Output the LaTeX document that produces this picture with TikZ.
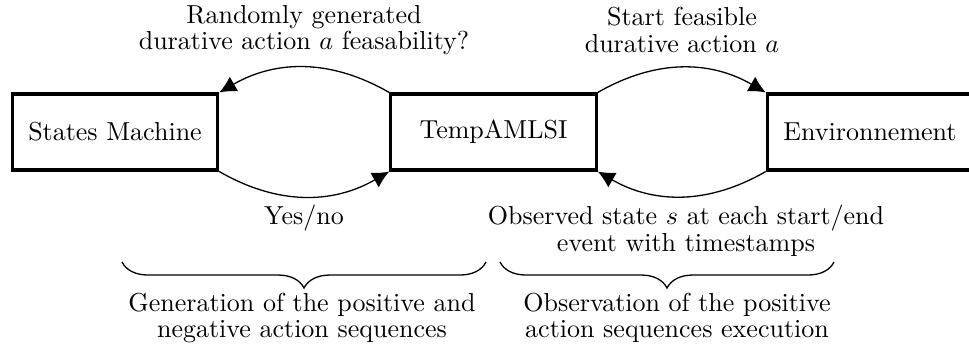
\documentclass[tikz,border=0pt]{standalone}
\usetikzlibrary{decorations.pathreplacing,arrows.meta}
\begin{document}
\begin{tikzpicture}[x=0.3846pt,y=-0.3846pt,
  box/.style={draw,line width=1.2pt,minimum width=79pt,minimum height=29.2pt,inner sep=0pt},
  arc/.style={-{Latex[length=6.5pt,width=6.5pt]},line width=0.5pt},
  lbl/.style={align=center,inner sep=0pt,font=\fontsize{10}{10.2}\selectfont},
  brc/.style={decorate,decoration={brace,mirror,amplitude=10pt},line width=0.5pt}]
\useasboundingbox (0,0) rectangle (969,356);
\node[box] (sm) at (115,132) {States Machine};
\node[box] (ta) at (493.5,132) {TempAMLSI};
\node[box] (env) at (870,132) {Environnement};
\draw[arc] (ta.north west) to[bend right] (sm.north east);
\draw[arc] (sm.south east) to[bend right] (ta.south west);
\draw[arc] (ta.north east) to[bend left] (env.north west);
\draw[arc] (env.south west) to[bend left] (ta.south east);
\node[lbl] (q) at (304,30) {Randomly generated\\durative action $a$ feasability?};
\node[lbl] (s) at (682,30) {Start feasible\\durative action $a$};
\node[lbl] (yn) at (304,218) {Yes/no};
\node[lbl] (obs) at (686,231) {Observed state $s$ at each start/end\\event with timestamps};
\coordinate (b1l) at (122,262);
\coordinate (b1r) at (486,262);
\coordinate (b2l) at (500,262);
\coordinate (b2r) at (834,262);
\draw[brc] (b1l) -- (b1r);
\draw[brc] (b2l) -- (b2r);
\node[lbl] (gen) at (302,318) {Generation of the positive and\\negative action sequences};
\node[lbl] (obsx) at (677,318) {Observation of the positive\\action sequences execution};
\end{tikzpicture}
\end{document}
